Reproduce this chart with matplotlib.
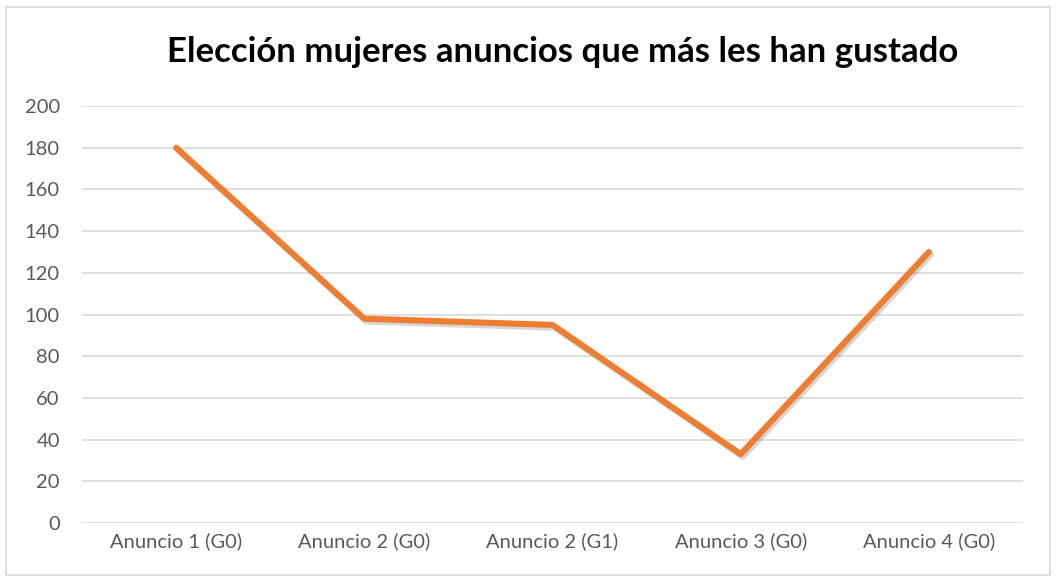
import matplotlib.pyplot as plt
import matplotlib.patheffects as pe
from matplotlib.patches import Rectangle

categories = ["Anuncio 1 (G0)", "Anuncio 2 (G0)", "Anuncio 2 (G1)", "Anuncio 3 (G0)", "Anuncio 4 (G0)"]
values = [180, 98, 95, 33, 130]
yticks = [0, 20, 40, 60, 80, 100, 120, 140, 160, 180, 200]

plt.rcParams['font.family'] = ['Lato', 'DejaVu Sans']

fig = plt.figure(figsize=(10.58, 5.81), dpi=100)
fig.patches.append(Rectangle((6/1058, 6/581), 1044/1058, 568/581, transform=fig.transFigure,
                             fill=False, edgecolor='#D9D9D9', linewidth=1.2))
ax = fig.add_axes([82/1058, 58/581, 941/1058, (523-106)/581])

x = list(range(len(categories)))
ax.plot(x, values, color='#ED7D31', linewidth=4.4, solid_capstyle='round', solid_joinstyle='round',
        path_effects=[pe.SimpleLineShadow(offset=(1.5, -2), shadow_color='#777777', alpha=0.3),
                      pe.Normal()], zorder=3)

ax.set_xlim(-0.5, len(categories) - 0.5)
ax.set_ylim(0, 200)
ax.set_yticks(yticks)
ax.set_xticks(x)
ax.set_xticklabels(categories)
ax.tick_params(axis='both', length=0, labelsize=14.5, labelcolor='#595959')
ax.tick_params(axis='y', pad=16)
ax.tick_params(axis='x', pad=7)
for lab in ax.get_yticklabels():
    lab.set_horizontalalignment('right')
ax.yaxis.grid(True, color='#D9D9D9', linewidth=1.2)
ax.set_axisbelow(True)
for s in ax.spines.values():
    s.set_visible(False)

fig.text(563/1058, 1 - 52/581, "Elección mujeres anuncios que más les han gustado",
         ha='center', va='center', fontsize=25, fontweight='bold', color='black')

fig.savefig('out.png', dpi=100)
